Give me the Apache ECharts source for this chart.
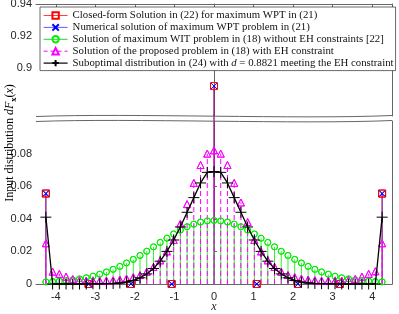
<!DOCTYPE html>
<html><head><meta charset="utf-8">
<script src="https://cdn.jsdelivr.net/npm/echarts@6/dist/echarts.min.js"></script>
<style>html,body{margin:0;padding:0;background:#fff}#c{width:399px;height:314px}</style>
</head><body><div id="c"></div>
<script>
// ---------- data ----------
const xGrid = [-4.25,-4.08,-3.91,-3.74,-3.57,-3.40,-3.23,-3.06,-2.89,-2.72,-2.55,-2.38,-2.21,-2.04,-1.87,-1.70,-1.53,-1.36,-1.19,-1.02,-0.85,-0.68,-0.51,-0.34,-0.17,0,0.17,0.34,0.51,0.68,0.85,1.02,1.19,1.36,1.53,1.70,1.87,2.04,2.21,2.38,2.55,2.72,2.89,3.06,3.23,3.40,3.57,3.74,3.91,4.08,4.25];
const closedX = [-4.25,-3.17,-2.10,-1.07,0,1.08,2.12,3.18,4.25];
const closedY = [0.0555,0,0,0,0.8887,0,0,0,0.0555];
const numericalX = [-4.25,-3.17,-2.10,-1.07,0,1.08,2.12,3.18,4.25];
const numericalY = [0.0555,0,0,0,0.8887,0,0,0,0.0555];
const witY = [0.0013,0.0015,0.0018,0.0021,0.0025,0.0031,0.0038,0.0048,0.0060,0.0074,0.0090,0.0108,0.0129,0.0151,0.0175,0.0201,0.0228,0.0255,0.0281,0.0307,0.0331,0.0351,0.0367,0.0380,0.0387,0.0390,0.0387,0.0380,0.0367,0.0351,0.0331,0.0307,0.0281,0.0255,0.0228,0.0201,0.0175,0.0151,0.0129,0.0108,0.0090,0.0074,0.0060,0.0048,0.0038,0.0031,0.0025,0.0021,0.0018,0.0015,0.0013];
const proposedY = [0.025,0.0076,0.0062,0.0045,0.0030,0.0023,0.0021,0.0020,0.0020,0.0021,0.0023,0.0027,0.0033,0.0042,0.0055,0.0075,0.0105,0.0145,0.020,0.027,0.037,0.049,0.062,0.073,0.080,0.082,0.080,0.073,0.062,0.050,0.038,0.027,0.020,0.0145,0.0105,0.0075,0.0055,0.0042,0.0033,0.0027,0.0023,0.0021,0.0020,0.0020,0.0021,0.0024,0.0031,0.0045,0.0062,0.0078,0.025];
const suboptY = [0.041,0,0,0,0,0,0,0.0001,0.0001,0.0002,0.0003,0.0006,0.0012,0.0022,0.0038,0.0062,0.0095,0.014,0.020,0.027,0.035,0.044,0.053,0.062,0.0685,0.069,0.0685,0.062,0.053,0.044,0.035,0.027,0.020,0.014,0.0095,0.0062,0.0038,0.0022,0.0012,0.0006,0.0003,0.0002,0.0001,0.0001,0,0,0,0,0,0,0.041];
const xTicks = [-4,-3,-2,-1,0,1,2,3,4];
const yTicksTop = [0.9,0.92,0.94];
const yTicksBottom = [0,0.02,0.04,0.06,0.08];
const names = [
  'Closed-form Solution in (22) for maximum WPT in (21)',
  'Numerical solution of maximum WPT problem in (21)',
  'Solution of maximum WIT problem in (18) without EH constraints [22]',
  'Solution of the proposed problem in (18) with EH constraint',
  'Suboptimal distribution in (24) with d = 0.8821 meeting the EH constraint'
];
// ---------- layout / style ----------
const TOP = {min:0.87, max:0.94};
const BOT = {min:0, max:0.1};
const SERIF = 'Liberation Serif';
const SANS = 'Liberation Sans';
const TXT = '#262626';
const FRAME = '#666';

function pairs(xs, ys, lo, hi){
  const out=[]; xs.forEach((x,i)=>{ if(ys[i]>=lo && ys[i]<=hi) out.push([x,ys[i]]); }); return out;
}
function stems(name, xs, ys, axis, color, dash, lo, hiClamp, width, opacity){
  return {
    type:'custom', name:name, xAxisIndex:axis, yAxisIndex:axis*2, silent:true,
    data: xs.map((x,i)=>[x,ys[i]]),
    encode:{x:0,y:1},
    renderItem:function(params, api){
      const x=api.value(0), y=api.value(1);
      if(y<lo || y<=0) return null;
      const p0=api.coord([x,lo]), p1=api.coord([x,Math.min(y,hiClamp)]);
      return {type:'line', shape:{x1:p0[0],y1:p0[1],x2:p1[0],y2:p1[1]},
        style:{stroke:color, lineWidth:width||1, lineDash:dash||null, opacity:opacity==null?1:opacity}};
    }
  };
}
function markers(name, data, axis, symbol, size, color, withLine){
  return {
    type:'line', name:name, xAxisIndex:axis, yAxisIndex:axis*2, data:data,
    symbol:symbol, symbolSize:size, showAllSymbol:true,
    lineStyle: withLine ? {color:color, width:1.3} : {width:0, opacity:0},
    itemStyle:{color:'rgba(0,0,0,0)', borderColor:color, borderWidth:1},
    emphasis:{disabled:true}, z:3
  };
}
const SYM_X = 'path://M0,0L10,10M10,0L0,10';
const SYM_PLUS = 'path://M5,0L5,10M0,5L10,5';

const xAxisBase = {type:'value', min:-4.5, max:4.5, splitLine:{show:false},
  axisLine:{show:true, onZero:false, lineStyle:{color:FRAME, width:1}},
  axisTick:{show:true, inside:true, length:3, customValues:xTicks, lineStyle:{color:FRAME}}};
const yRight = (gi)=>({type:'value', gridIndex:gi, position:'right', min: gi===0?TOP.min:BOT.min, max: gi===0?TOP.max:BOT.max,
  axisLine:{show:true, lineStyle:{color:FRAME}}, axisTick:{show:false}, axisLabel:{show:false}, splitLine:{show:false}});

const option = {
  animation:false,
  backgroundColor:'#fff',
  grid:[
    {left:36, right:7, top:4, height:112, outerBoundsMode:'none', containLabel:false},
    {left:36, right:7, top:121, height:163, outerBoundsMode:'none', containLabel:false}
  ],
  xAxis:[
    Object.assign({}, xAxisBase, {gridIndex:0, position:'top', axisLabel:{show:false}}),
    Object.assign({}, xAxisBase, {gridIndex:1, position:'bottom',
      axisLabel:{show:true, customValues:xTicks, color:TXT, fontFamily:SANS, fontSize:11, margin:7}})
  ],
  yAxis:[
    {type:'value', gridIndex:0, min:TOP.min, max:TOP.max, splitLine:{show:false},
      axisLine:{show:true, lineStyle:{color:FRAME}},
      axisTick:{show:true, inside:true, length:3, customValues:yTicksTop, lineStyle:{color:FRAME}},
      axisLabel:{customValues:yTicksTop, color:TXT, fontFamily:SANS, fontSize:11, margin:4, formatter:v=>String(+v.toFixed(4))}},
    yRight(0),
    {type:'value', gridIndex:1, min:BOT.min, max:BOT.max, splitLine:{show:false},
      axisLine:{show:true, lineStyle:{color:FRAME}},
      axisTick:{show:true, inside:true, length:3, customValues:yTicksBottom, lineStyle:{color:FRAME}},
      axisLabel:{customValues:yTicksBottom, color:TXT, fontFamily:SANS, fontSize:11, margin:4, formatter:v=>String(+v.toFixed(4))}},
    yRight(1)
  ],
  legend:{
    orient:'vertical', left:40, top:7, itemWidth:24, itemHeight:8, itemGap:0.9,
    padding:[3,2,2,3], backgroundColor:'#fff', borderColor:'#444', borderWidth:0.8,
    selectedMode:false,
    textStyle:{fontFamily:SERIF, fontSize:10.8, lineHeight:10, color:'#111',
      rich:{i:{fontFamily:SERIF, fontStyle:'italic', fontSize:10.8, lineHeight:10, color:'#111'}}},
    formatter:function(n){ return n===names[4] ? 'Suboptimal distribution in (24) with {i|d} = 0.8821 meeting the EH constraint' : n; },
    data:[
      {name:names[0], lineStyle:{width:1, opacity:1, color:'#ff4040'}},
      {name:names[1], lineStyle:{width:1, opacity:1, color:'#6060ff'}},
      {name:names[2], lineStyle:{width:1, opacity:1, color:'#22dd22'}},
      {name:names[3], lineStyle:{width:1, opacity:1, color:'#ff00ff', type:[4,3]}},
      {name:names[4], lineStyle:{width:1.2, opacity:1, color:'#000'}}
    ]
  },
  graphic:[
    {type:'bezierCurve', silent:true, z:10, shape:{x1:36,y1:116.5,cpx1:130,cpy1:113,cpx2:300,cpy2:119.5,x2:392,y2:115.5}, style:{stroke:FRAME, fill:'none', lineWidth:1}},
    {type:'bezierCurve', silent:true, z:10, shape:{x1:36,y1:121.5,cpx1:130,cpy1:118,cpx2:300,cpy2:124.5,x2:392,y2:120.5}, style:{stroke:FRAME, fill:'none', lineWidth:1}},
    {type:'text', silent:true, x:214, y:307,
      style:{text:'x', align:'center', verticalAlign:'middle', fontFamily:SERIF, fontStyle:'italic', fontSize:12, fill:TXT}},
    {type:'text', silent:true, x:10, y:143, rotation:Math.PI/2,
      style:{text:'{n|Input distribution }{i|dF}{b|x}{n|(}{i|x}{n|)}', align:'center', verticalAlign:'middle',
        rich:{
          n:{fontFamily:SERIF, fontSize:12, color:TXT, lineHeight:16},
          i:{fontFamily:SERIF, fontStyle:'italic', fontSize:12, color:TXT, lineHeight:16},
          b:{fontFamily:SERIF, fontWeight:'bold', fontSize:8.5, color:TXT, verticalAlign:'bottom', lineHeight:10}
        }}}
  ],
  series:[
    markers(names[0], pairs(closedX, closedY, BOT.min, BOT.max), 1, 'rect', 7, '#ff0000', false),
    markers(names[1], pairs(numericalX, numericalY, BOT.min, BOT.max), 1, SYM_X, 6, '#0000ff', false),
    markers(names[2], pairs(xGrid, witY, BOT.min, BOT.max), 1, 'circle', 6, '#00ee00', false),
    markers(names[3], pairs(xGrid, proposedY, BOT.min, BOT.max), 1, 'triangle', 7, '#ff00ff', false),
    stems('s0', closedX, closedY, 1, '#ff0000', null, 0, 0.104, 1),
    stems('s1', numericalX, numericalY, 1, '#3030ff', null, 0, 0.104, 1, 0.75),
    stems('s2', xGrid, witY, 1, '#33ee33', null, 0, 0.104, 1),
    stems('s3', xGrid, proposedY, 1, '#ff00ff', [5,3], 0, 0.104, 1),
    stems('t0', closedX, closedY, 0, '#ff0000', null, TOP.min, TOP.max, 1),
    stems('t1', numericalX, numericalY, 0, '#3030ff', null, TOP.min, TOP.max, 1, 0.75),
    markers(names[0]+' ', pairs(closedX, closedY, TOP.min, TOP.max), 0, 'rect', 7, '#ff0000', false),
    markers(names[1]+' ', pairs(numericalX, numericalY, TOP.min, TOP.max), 0, SYM_X, 6, '#0000ff', false),
    Object.assign(markers('m0', pairs(closedX, closedY, BOT.min, BOT.max), 1, 'rect', 7, '#ff0000', false), {z:4}),
    Object.assign(markers('m1', pairs(numericalX, numericalY, BOT.min, BOT.max), 1, SYM_X, 6, '#0000ff', false), {z:4}),
    Object.assign(markers('m2', pairs(xGrid, witY, BOT.min, BOT.max), 1, 'circle', 6, '#00ee00', false), {z:4}),
    Object.assign(markers('m3', pairs(xGrid, proposedY, BOT.min, BOT.max), 1, 'triangle', 7, '#ff00ff', false), {z:4}),
    Object.assign(markers(names[4], pairs(xGrid, suboptY, BOT.min, BOT.max), 1, SYM_PLUS, 11, '#000000', true), {z:5})
  ]
};
const chart = echarts.init(document.getElementById('c'), null, {renderer:'canvas'});
chart.setOption(option);
</script>
</body></html>
